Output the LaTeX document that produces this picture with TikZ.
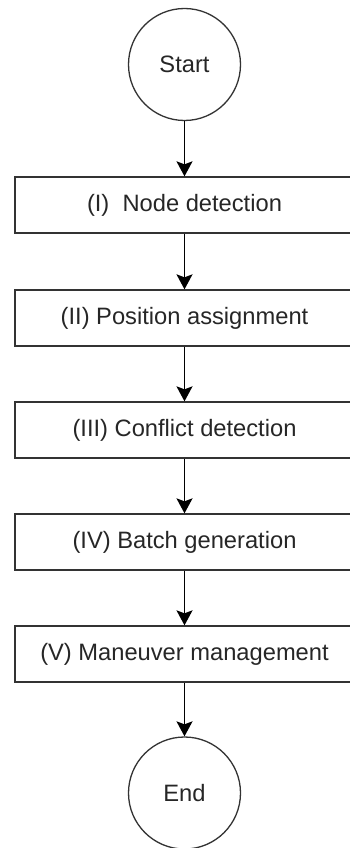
\documentclass[tikz,border=0pt]{standalone}
\usepackage{fontspec}
\setmainfont{Liberation Sans}
\usetikzlibrary{arrows.meta}
\begin{document}
\begin{tikzpicture}[x=1pt,y=-1pt,
  every node/.style={font=\fontsize{23.7}{28}\selectfont, text=black!85},
  stepbox/.style={draw=black!80, line width=1.3pt, minimum width=339pt, minimum height=56pt, inner sep=0pt},
  term/.style={draw=black!80, line width=1.3pt, circle, minimum size=112pt, inner sep=0pt},
  flow/.style={draw=black, line width=1.8pt, -{Stealth[length=15pt, width=16pt, inset=3pt]}}]
  \useasboundingbox (0,0) rectangle (350,848);
  \node[term] (start) at (184.5,64.5) {Start};
  \node[stepbox] (s1) at (184.5,205) {(I)\ \ Node detection};
  \node[stepbox] (s2) at (184.5,318) {(II) Position assignment};
  \node[stepbox] (s3) at (184.5,430) {(III) Conflict detection};
  \node[stepbox] (s4) at (184.5,542) {(IV) Batch generation};
  \node[stepbox] (s5) at (184.5,654) {(V) Maneuver management};
  \node[term] (end) at (184.5,793) {End};
  \draw[flow] (start) -- (s1);
  \draw[flow] (s1) -- (s2);
  \draw[flow] (s2) -- (s3);
  \draw[flow] (s3) -- (s4);
  \draw[flow] (s4) -- (s5);
  \draw[flow] (s5) -- (end);
\end{tikzpicture}
\end{document}
